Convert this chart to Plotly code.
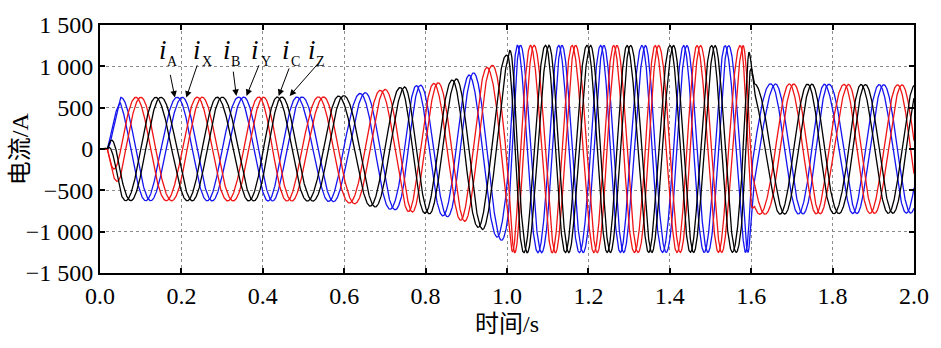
import numpy as np
import plotly.graph_objects as go

# Positive-peak times (s) of the three coloured pairs in firing order
# blue (A/X) -> red (B/Y) -> black (C/Z); consecutive entries are 1/3 cycle apart.
peak_times = [
    0.045, 0.094, 0.143, 0.196, 0.245, 0.294, 0.347, 0.396, 0.441,
    0.490, 0.543, 0.592, 0.645, 0.694, 0.743, 0.782, 0.825, 0.870,
    0.911, 0.956, 1.003, 1.029, 1.062, 1.099, 1.131, 1.164, 1.201,
    1.234, 1.266, 1.299, 1.336, 1.368, 1.405, 1.438, 1.471, 1.507,
    1.540, 1.577, 1.601, 1.654, 1.699, 1.744, 1.785, 1.834, 1.875,
    1.920, 1.965, 2.008,
]

# Current amplitude envelope (A)
env_t = [0.000, 0.018, 0.032, 0.050, 0.550, 0.600, 0.650, 0.700, 0.750,
         0.800, 0.850, 0.900, 0.940, 0.960, 0.980, 1.000, 1.015, 1.590,
         1.594, 1.601, 1.608, 2.000]
env_amp = [0, 0, 330, 625, 630, 645, 680, 720, 752,
           779, 815, 880, 975, 1000, 1090, 1140, 1255, 1250,
           1245, 1000, 790, 775]

# Six phase windings: name, phase angle (deg) and colour
phase_names = ["A", "X", "B", "Y", "C", "Z"]
phase_angles = [-15, 15, 105, 135, 225, 255]
phase_colors = ["#1414f0", "#1414f0", "#f01414", "#f01414", "#000000", "#000000"]

# Axis ticks
x_ticks = [0.0, 0.2, 0.4, 0.6, 0.8, 1.0, 1.2, 1.4, 1.6, 1.8, 2.0]
y_ticks = [-1500, -1000, -500, 0, 500, 1000, 1500]
y_ticktext = ["\u22121 500", "\u22121 000", "\u2212500", "0", "500", "1 000", "1 500"]

# Label positions: i-glyph x, subscript x, arrow tail and tip
label_names = ["A", "X", "B", "Y", "C", "Z"]
label_i_x = [0.156, 0.239, 0.311, 0.382, 0.458, 0.521]
label_sub_x = [0.178, 0.264, 0.333, 0.407, 0.480, 0.542]
arrow_tail_x = [0.172, 0.240, 0.327, 0.392, 0.466, 0.539]
arrow_tail_y = [915, 1031, 954, 1031, 993, 1051]
arrow_tip_x = [0.184, 0.212, 0.335, 0.360, 0.439, 0.466]
arrow_tip_y = [622, 622, 642, 642, 642, 642]

SERIF = "Liberation Serif, Times New Roman, Noto Sans CJK SC"

# Electrical angle from the peak grid (1/3 cycle per entry)
pk = np.array(peak_times)
cyc = np.arange(len(pk)) / 3.0
t = np.linspace(0.0, 2.0, 4001)
slope0 = (cyc[1] - cyc[0]) / (pk[1] - pk[0])
cycles = np.interp(t, pk, cyc)
cycles = np.where(t < pk[0], cyc[0] + (t - pk[0]) * slope0, cycles)
theta = 2 * np.pi * cycles
amp = np.interp(t, env_t, env_amp)

fig = go.Figure()
for name, ang, col in zip(phase_names, phase_angles, phase_colors):
    i_k = amp * np.cos(theta - np.deg2rad(ang))
    fig.add_trace(go.Scatter(x=t, y=i_k, mode="lines", name="i" + name,
                             line=dict(color=col, width=1.3),
                             showlegend=False))

annotations = []
for k, nm in enumerate(label_names):
    annotations.append(dict(x=label_i_x[k], y=1197, xref="x", yref="y",
                            text="<i>i</i>", showarrow=False,
                            xanchor="center", yanchor="middle",
                            font=dict(family=SERIF, size=27, color="black")))
    annotations.append(dict(x=label_sub_x[k], y=1063, xref="x", yref="y",
                            text=nm, showarrow=False,
                            xanchor="center", yanchor="middle",
                            font=dict(family=SERIF, size=14, color="black")))
    annotations.append(dict(x=arrow_tip_x[k], y=arrow_tip_y[k], xref="x", yref="y",
                            ax=arrow_tail_x[k], ay=arrow_tail_y[k],
                            axref="x", ayref="y", text="", showarrow=True,
                            arrowhead=2, arrowsize=1.3, arrowwidth=1,
                            arrowcolor="black"))

annotations.append(dict(x=-0.098, y=0.5, xref="paper", yref="paper",
                        text="电流/A", textangle=-90, showarrow=False,
                        xanchor="center", yanchor="middle",
                        font=dict(family=SERIF, size=24, color="black")))
annotations.append(dict(x=0.5, y=-0.205, xref="paper", yref="paper",
                        text="时间/s", showarrow=False,
                        xanchor="center", yanchor="middle",
                        font=dict(family=SERIF, size=24, color="black")))

axis_common = dict(showline=True, linecolor="black", linewidth=2, mirror="ticks",
                   ticks="inside", ticklen=5, tickwidth=1.5, tickcolor="black",
                   showgrid=True, gridcolor="#8c8c8c", griddash="dot", gridwidth=1,
                   zeroline=False,
                   tickfont=dict(family=SERIF, size=24, color="black"))

fig.update_layout(
    width=941, height=348,
    margin=dict(l=100, r=24, t=16, b=75),
    plot_bgcolor="white", paper_bgcolor="white",
    xaxis=dict(range=[0, 2], tickvals=x_ticks,
               ticktext=[f"{v:.1f}" for v in x_ticks], **axis_common),
    yaxis=dict(range=[-1500, 1500], tickvals=y_ticks, ticktext=y_ticktext,
               **axis_common),
    annotations=annotations,
)

fig.write_html("out.html")
